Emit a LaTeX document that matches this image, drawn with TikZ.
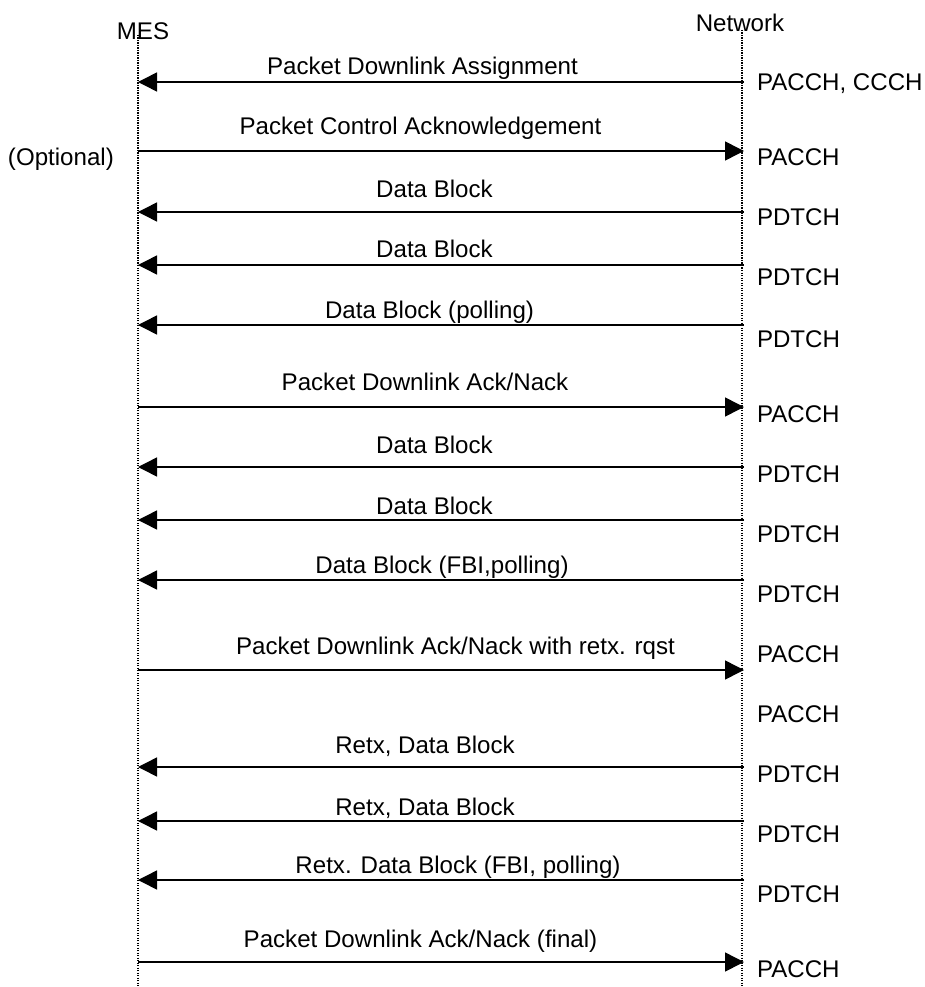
\documentclass[tikz,border=0pt]{standalone}
\usepackage{fontspec}
\setmainfont{Liberation Sans}
\usetikzlibrary{arrows.meta}
\begin{document}
\begin{tikzpicture}[x=1pt,y=-1pt,
  every node/.style={font=\fontsize{24.1}{28}\selectfont, inner sep=0pt, outer sep=0pt},
  lifeline/.style={line width=1.1pt, dash pattern=on 1.1pt off 1.4pt},
  msg/.style={line width=1.5pt, -{Triangle[length=19pt,width=19pt]}},
  msgtext/.style={anchor=base},
  chan/.style={anchor=base west}]
\useasboundingbox (0,0) rectangle (925,987);
% lifelines
\node[anchor=base] (mes) at (143,40) {MES};
\node[anchor=base] (net) at (740,32) {Network};
\coordinate (mtop) at (138,35);
\coordinate (mbot) at (138,987);
\coordinate (ntop) at (742,30);
\coordinate (nbot) at (742,987);
\draw[lifeline] (mtop) -- (mbot);
\draw[lifeline] (ntop) -- (nbot);
% message coordinates
\foreach \i/\y in {1/82,2/151,3/212,4/265,5/325,6/407,7/467,8/520,9/580,10/670,12/767,13/821,14/880,15/962}{
  \coordinate (m\i) at (138,\y);
  \coordinate (n\i) at (744,\y);
}
% downlink (network -> MES)
\foreach \i in {1,3,4,5,7,8,9,12,13,14}{
  \draw[msg] (n\i) -- (m\i);
}
% uplink (MES -> network)
\foreach \i in {2,6,10,15}{
  \draw[msg] (m\i) -- (n\i);
}
% message labels
\node[msgtext] (t1) at (422.5,75) {Packet Downlink Assignment};
\node[msgtext] (t2) at (420.5,135) {Packet Control Acknowledgement};
\node[msgtext] (t3) at (434.5,197) {Data Block};
\node[msgtext] (t4) at (434.5,257) {Data Block};
\node[msgtext] (t5) at (429.5,318) {Data Block (polling)};
\node[msgtext] (t6) at (425,390) {Packet Downlink Ack/Nack};
\node[msgtext] (t7) at (434.5,453) {Data Block};
\node[msgtext] (t8) at (434.5,514) {Data Block};
\node[msgtext] (t9) at (442,573) {Data Block (FBI,polling)};
\node[msgtext] (t10) at (455.5,654) {Packet Downlink Ack/Nack with retx. rqst};
\node[msgtext] (t12) at (425,753) {Retx, Data Block};
\node[msgtext] (t13) at (425,815) {Retx, Data Block};
\node[msgtext] (t14) at (458,873) {Retx. Data Block (FBI, polling)};
\node[msgtext] (t15) at (420.5,947) {Packet Downlink Ack/Nack (final)};
\node[anchor=base west] (opt) at (8,166) {(Optional)};
% channel labels
\node[chan] (c1) at (757,91) {PACCH, CCCH};
\node[chan] (c2) at (757,166) {PACCH};
\node[chan] (c3) at (757,225) {PDTCH};
\node[chan] (c4) at (757,285) {PDTCH};
\node[chan] (c5) at (757,347) {PDTCH};
\node[chan] (c6) at (757,422) {PACCH};
\node[chan] (c7) at (757,482) {PDTCH};
\node[chan] (c8) at (757,542) {PDTCH};
\node[chan] (c9) at (757,602) {PDTCH};
\node[chan] (c10) at (757,662) {PACCH};
\node[chan] (c11) at (757,722) {PACCH};
\node[chan] (c12) at (757,782) {PDTCH};
\node[chan] (c13) at (757,842) {PDTCH};
\node[chan] (c14) at (757,902) {PDTCH};
\node[chan] (c15) at (757,977) {PACCH};
\end{tikzpicture}
\end{document}
